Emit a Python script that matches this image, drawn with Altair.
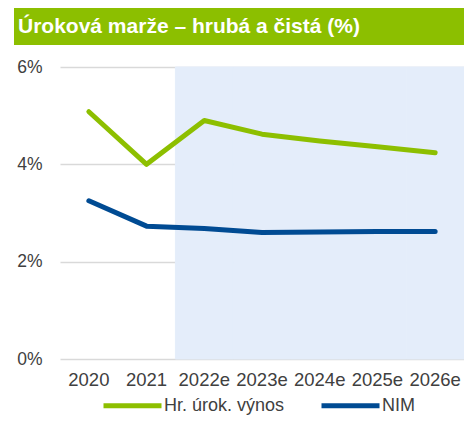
import altair as alt
import pandas as pd

years = ["2020", "2021", "2022e", "2023e", "2024e", "2025e", "2026e"]
gross = [5.08, 4.0, 4.9, 4.62, 4.48, 4.36, 4.24]
nim = [3.25, 2.73, 2.68, 2.6, 2.61, 2.62, 2.62]
forecast_years = ["2022e", "2023e", "2024e", "2025e", "2026e"]
series_names = ["Hr. úrok. výnos", "NIM"]
series_colors = ["#8dbf00", "#004b93"]
title_text = "Úroková marže – hrubá a čistá (%)"
y_max = 6

FONT = "Liberation Sans"

rows = []
for y, g, n in zip(years, gross, nim):
    rows.append({"year": y, "series": series_names[0], "value": g})
    rows.append({"year": y, "series": series_names[1], "value": n})
df = pd.DataFrame(rows)

shade_df = pd.DataFrame({"year": forecast_years, "top": [y_max] * len(forecast_years), "bottom": [0] * len(forecast_years)})

x_scale = alt.Scale(domain=years, paddingInner=0, paddingOuter=0)
y_scale = alt.Scale(domain=[0, y_max], nice=False)
x_axis = alt.Axis(
    title=None, labelAngle=0, domain=False, ticks=False, grid=False,
    labelFontSize=18.5, labelColor="#404040", labelPadding=11, labelFont=FONT,
)
y_axis = alt.Axis(
    title=None, values=[0, 2, 4, 6], domain=False, ticks=False,
    labelExpr="datum.value + '%'", labelFontSize=17.5, labelColor="#404040",
    labelPadding=18, labelFont=FONT, gridColor="#d9d9d9", gridWidth=1.5,
)

shade = alt.Chart(shade_df).mark_bar(color="#e4edfa", stroke="#e4edfa", strokeWidth=1).encode(
    x=alt.X("year:N", sort=years, scale=x_scale, axis=x_axis),
    y=alt.Y("top:Q", scale=y_scale, axis=y_axis),
    y2="bottom:Q",
)

lines = alt.Chart(df).mark_line(strokeWidth=5, strokeCap="round", strokeJoin="round").encode(
    x=alt.X("year:N", sort=years, scale=x_scale, axis=x_axis),
    y=alt.Y("value:Q", scale=y_scale, axis=y_axis),
    color=alt.Color(
        "series:N",
        scale=alt.Scale(domain=series_names, range=series_colors),
        legend=alt.Legend(
            title=None, orient="none", legendX=41, legendY=307, direction="horizontal",
            symbolType="stroke", symbolSize=3364, symbolStrokeWidth=5,
            labelFontSize=18, labelFont=FONT, labelColor="#404040", labelOffset=0,
            columnPadding=26, padding=0,
        ),
    ),
    order=alt.Order("year:N"),
)

title_bar = alt.Chart(pd.DataFrame({"t": [title_text]})).mark_rect(color="#8cbf00").encode(
    x=alt.value(-46), x2=alt.value(404), y=alt.value(-59), y2=alt.value(-22),
)
title_label = alt.Chart(pd.DataFrame({"t": [title_text]})).mark_text(
    color="white", fontSize=21, fontWeight="bold", font=FONT, align="left", baseline="middle",
).encode(
    x=alt.value(-42), y=alt.value(-40), text="t:N",
)

chart = alt.layer(shade, lines, title_bar, title_label).properties(
    width=404, height=292,
    padding={"left": 52, "top": 59, "right": 0, "bottom": 56},
    autosize=alt.AutoSizeParams(type="none"),
    background="white",
).configure_view(stroke="transparent", strokeWidth=0)

chart.save("out.html", embed_options={"renderer": "svg", "actions": False})
